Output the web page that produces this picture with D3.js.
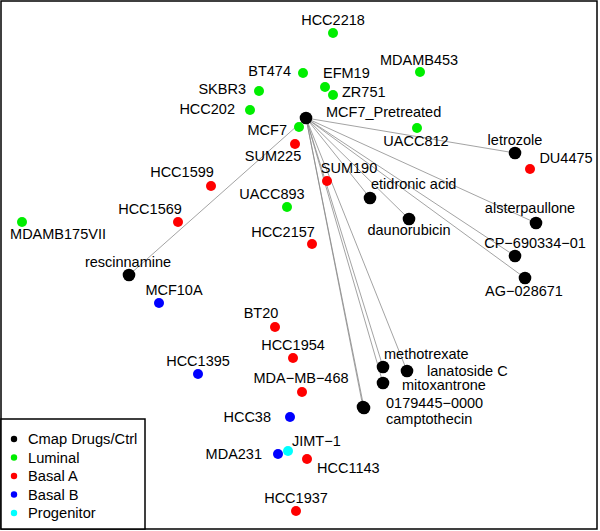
<!DOCTYPE html>
<html><head><meta charset="utf-8">
<script src="https://cdn.jsdelivr.net/npm/d3@7"></script>
<style>
html,body{margin:0;padding:0;background:#fff;}
svg{display:block;font-family:"Liberation Sans",Arial,sans-serif;}
</style>
</head><body>
<svg id="chart" width="600" height="531"></svg>
<script>
// ---- data (MDS-like coordinates) ----
const groups = ["Cmap Drugs/Ctrl", "Luminal", "Basal A", "Basal B", "Progenitor"];
const groupColors = ["#000000", "#00ee00", "#ff0000", "#0000ff", "#00ffff"];

const cmapNames = ["MCF7_Pretreated","letrozole","etidronic acid","daunorubicin","alsterpaullone","CP\u2212690334\u221201","AG\u2212028671","rescinnamine","methotrexate","lanatoside C","mitoxantrone","0179445\u22120000","camptothecin"];
const cmapX = [0.06, 2.15, 0.70, 1.09, 2.36, 2.15, 2.25, -1.71, 0.83, 1.07, 0.83, 0.64, 0.63];
const cmapY = [1.47, 1.12, 0.67, 0.46, 0.42, 0.09, -0.13, -0.10, -1.02, -1.06, -1.18, -1.43, -1.42];

const luminalNames = ["HCC2218","MDAMB453","BT474","EFM19","ZR751","SKBR3","HCC202","MCF7","UACC812","UACC893","MDAMB175VII"];
const luminalX = [0.33, 1.20, 0.03, 0.25, 0.33, -0.41, -0.50, -0.01, 1.17, -0.13, -2.78];
const luminalY = [2.32, 1.93, 1.92, 1.78, 1.70, 1.74, 1.55, 1.38, 1.37, 0.58, 0.43];

const basalANames = ["SUM225","DU4475","SUM190","HCC1599","HCC1569","HCC2157","BT20","HCC1954","MDA\u2212MB\u2212468","HCC1143","HCC1937"];
const basalAX = [-0.05, 2.30, 0.27, -0.89, -1.22, 0.12, -0.25, -0.07, 0.02, 0.07, -0.04];
const basalAY = [1.21, 0.96, 0.84, 0.79, 0.43, 0.21, -0.62, -0.93, -1.27, -1.94, -2.46];

const basalBNames = ["MCF10A","HCC1395","HCC38","MDA231"];
const basalBX = [-1.41, -1.02, -0.10, -0.22];
const basalBY = [-0.38, -1.09, -1.52, -1.89];

const progNames = ["JIMT\u22121"];
const progX = [-0.12];
const progY = [-1.86];

// drugs connected to the pretreated control
const hub = "MCF7_Pretreated";
const linkedDrugs = ["letrozole","etidronic acid","daunorubicin","alsterpaullone","CP\u2212690334\u221201","AG\u2212028671","rescinnamine","methotrexate","lanatoside C","mitoxantrone","0179445\u22120000","camptothecin"];

// ---- label placement (pixel offsets from point; layout only) ----
const labelPlace = {
  "HCC2218":["middle",0,-8], "MDAMB453":["middle",-1,-7], "BT474":["end",-12,3],
  "EFM19":["start",-2,-9], "ZR751":["start",9,2], "SKBR3":["end",-13,3],
  "HCC202":["end",-15,4], "MCF7":["end",-12,8], "MCF7_Pretreated":["start",20,-1],
  "UACC812":["middle",-1,18], "letrozole":["middle",0,-8], "DU4475":["middle",36,-6],
  "SUM225":["middle",-22,17], "SUM190":["middle",22,-8], "etidronic acid":["start",1,-9],
  "daunorubicin":["middle",0,16], "alsterpaullone":["middle",-6,-10],
  "CP\u2212690334\u221201":["middle",20,-8], "AG\u2212028671":["middle",-1,18],
  "HCC1599":["middle",-29,-9], "HCC1569":["middle",-28,-8], "UACC893":["middle",-15,-8],
  "HCC2157":["middle",-29,-7], "MDAMB175VII":["middle",36,17], "rescinnamine":["middle",-1,-8],
  "MCF10A":["middle",15,-8], "BT20":["middle",-14,-9], "HCC1954":["middle",0,-8],
  "HCC1395":["middle",0,-8], "MDA\u2212MB\u2212468":["middle",-1,-9], "HCC38":["end",-19,5],
  "MDA231":["end",-16,5], "JIMT\u22121":["start",4,-5], "HCC1143":["start",10,14],
  "HCC1937":["middle",0,-8], "methotrexate":["start",1,-8], "lanatoside C":["start",20,5],
  "mitoxantrone":["start",19,7], "0179445\u22120000":["start",22,0], "camptothecin":["start",23,17]
};

// ---- build points ----
const sets = [[cmapNames,cmapX,cmapY],[luminalNames,luminalX,luminalY],[basalANames,basalAX,basalAY],[basalBNames,basalBX,basalBY],[progNames,progX,progY]];
const points = [];
sets.forEach((s,gi)=>{ s[0].forEach((n,i)=>points.push({name:n,x:s[1][i],y:s[2][i],g:gi})); });
const byName = {}; points.forEach(p=>byName[p.name]=p);

const W = 600, H = 531;
const x = d3.scaleLinear().domain([-3, 3]).range([0, W]);
const y = d3.scaleLinear().domain([2.65, -2.66]).range([0, H]);

const svg = d3.select("#chart");

// links
svg.append("g").selectAll("line").data(linkedDrugs).join("line")
  .attr("x1", x(byName[hub].x)).attr("y1", y(byName[hub].y))
  .attr("x2", d=>x(byName[d].x)).attr("y2", d=>y(byName[d].y))
  .attr("stroke","#8c8c8c").attr("stroke-width",0.8);

// points
svg.append("g").selectAll("circle").data(points).join("circle")
  .attr("cx", d=>x(d.x)).attr("cy", d=>y(d.y))
  .attr("r", d=>d.g===0?6.3:5)
  .attr("fill", d=>groupColors[d.g]);

// labels
svg.append("g").selectAll("text").data(points).join("text")
  .attr("x", d=>x(d.x)+labelPlace[d.name][1])
  .attr("y", d=>y(d.y)+labelPlace[d.name][2])
  .attr("text-anchor", d=>labelPlace[d.name][0])
  .attr("font-size", 14.5).attr("fill","#000")
  .text(d=>d.name);

// frame
svg.append("rect").attr("x",1).attr("y",1).attr("width",596).attr("height",528)
  .attr("fill","none").attr("stroke","#000").attr("stroke-width",1.5);

// legend
const lg = svg.append("g");
lg.append("rect").attr("x",1).attr("y",419).attr("width",144).attr("height",110)
  .attr("fill","#fff").attr("stroke","#000").attr("stroke-width",1.5);
const ly = d3.scalePoint().domain(groups).range([439, 513]);
lg.selectAll("circle").data(groups).join("circle")
  .attr("cx",14).attr("cy",d=>ly(d)).attr("r",3.2)
  .attr("fill",(d,i)=>groupColors[i]);
lg.selectAll("text").data(groups).join("text")
  .attr("x",28).attr("y",d=>ly(d)+5).attr("font-size",14.7).text(d=>d);
</script>
</body></html>
